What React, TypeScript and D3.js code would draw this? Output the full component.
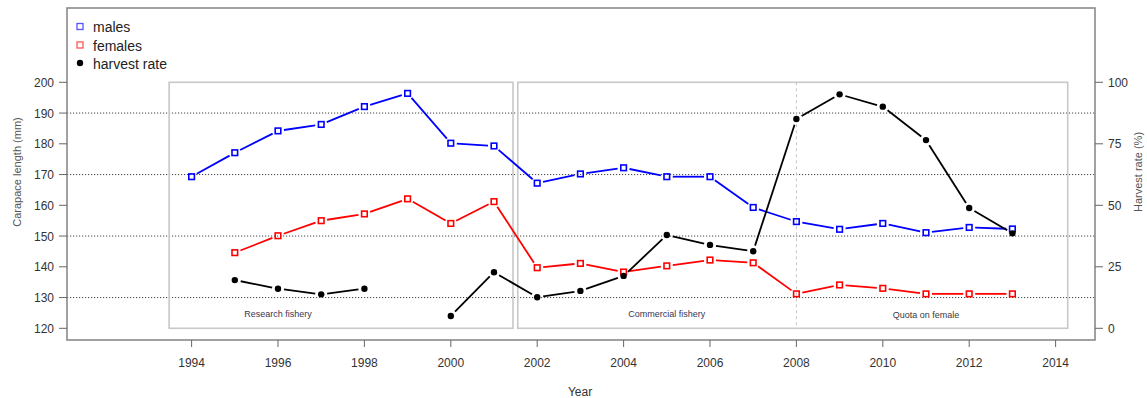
import React from "react";
import * as d3 from "d3";

const years = [1994, 1995, 1996, 1997, 1998, 1999, 2000, 2001, 2002, 2003, 2004, 2005, 2006, 2007, 2008, 2009, 2010, 2011, 2012, 2013];
const males = [169.3, 177.1, 184.2, 186.3, 192.1, 196.4, 180.2, 179.3, 167.2, 170.2, 172.2, 169.3, 169.3, 159.3, 154.7, 152.2, 154.1, 151.1, 152.8, 152.3];
const females: (number | null)[] = [null, 144.6, 150.1, 155.0, 157.2, 162.1, 154.1, 161.2, 139.7, 141.1, 138.3, 140.3, 142.2, 141.3, 131.2, 134.1, 133.0, 131.2, 131.2, 131.2];
const harvest: (number | null)[] = [null, 19.6, 16.1, 13.8, 16.1, null, 5.0, 22.8, 12.6, 15.2, 21.3, 37.9, 33.9, 31.3, 85.1, 95.1, 90.1, 76.5, 48.9, 38.6];

const xTicks = [1994, 1996, 1998, 2000, 2002, 2004, 2006, 2008, 2010, 2012, 2014];
const leftTicks = [120, 130, 140, 150, 160, 170, 180, 190, 200];
const rightTicks = [0, 25, 50, 75, 100];
const gridValues = [130, 150, 170, 190];

const periods = [
  { label: "Research fishery", x0: 1993.48, x1: 2001.44, tx: 1996.0 },
  { label: "Commercial fishery", x0: 2001.55, x1: 2014.28, tx: 2005.0 },
];
const quotaYear = 2008;
const quotaLabel = { label: "Quota on female", tx: 2011.0 };

const W = 1147, H = 398;
const frame = { left: 67, right: 1095, top: 8, bottom: 340 };
const x = d3.scaleLinear().domain([1994, 2014]).range([191.6, 1055.6]);
const yL = d3.scaleLinear().domain([120, 200]).range([328.3, 82.3]);
const yR = d3.scaleLinear().domain([0, 100]).range([328.3, 82.3]);

const font = "Liberation Sans, Arial, sans-serif";

function segs(vals: (number | null)[], y: d3.ScaleLinear<number, number>, gap: number) {
  const out: { x1: number; y1: number; x2: number; y2: number }[] = [];
  for (let i = 0; i < vals.length - 1; i++) {
    const a = vals[i], b = vals[i + 1];
    if (a == null || b == null) continue;
    const x1 = x(years[i]), y1 = y(a), x2 = x(years[i + 1]), y2 = y(b);
    const dx = x2 - x1, dy = y2 - y1, len = Math.hypot(dx, dy);
    if (len <= 2 * gap) continue;
    const ux = dx / len, uy = dy / len;
    out.push({ x1: x1 + ux * gap, y1: y1 + uy * gap, x2: x2 - ux * gap, y2: y2 - uy * gap });
  }
  return out;
}

export default function App() {
  const boxTop = yL(200), boxBot = yL(120);
  const series = [
    { vals: males as (number | null)[], color: "#0000ff" },
    { vals: females, color: "#ff0000" },
  ];
  return (
    <svg width={W} height={H} style={{ position: "absolute", left: 0, top: 0, background: "#fff" }} fontFamily={font}>
      {/* grid */}
      {gridValues.map((g) => (
        <line key={g} x1={frame.left} x2={frame.right} y1={yL(g)} y2={yL(g)} stroke="#444" strokeWidth={1} strokeDasharray="1.2,1.8" />
      ))}
      {/* period boxes */}
      {periods.map((p) => (
        <g key={p.label}>
          <rect x={x(p.x0)} y={boxTop} width={x(p.x1) - x(p.x0)} height={boxBot - boxTop} fill="none" stroke="#c8c8c8" strokeWidth={1.6} />
          <text x={x(p.tx)} y={boxBot - 11} fontSize={9} fill="#3a3550" textAnchor="middle">{p.label}</text>
        </g>
      ))}
      <line x1={x(quotaYear)} x2={x(quotaYear)} y1={boxTop} y2={boxBot} stroke="#c4c4c4" strokeWidth={1} strokeDasharray="3,3" />
      <text x={x(quotaLabel.tx)} y={boxBot - 10} fontSize={9} fill="#3a3a3a" textAnchor="middle">{quotaLabel.label}</text>

      {/* frame */}
      <rect x={frame.left} y={frame.top} width={frame.right - frame.left} height={frame.bottom - frame.top} fill="none" stroke="#8a8a8a" strokeWidth={1.6} />

      {/* x axis */}
      {xTicks.map((t) => (
        <g key={t}>
          <line x1={x(t)} x2={x(t)} y1={frame.bottom} y2={frame.bottom + 7} stroke="#666" strokeWidth={1} />
          <text x={x(t)} y={frame.bottom + 27} fontSize={12} fill="#333" textAnchor="middle">{t}</text>
        </g>
      ))}
      <text x={580} y={396} fontSize={12} fill="#333" textAnchor="middle">Year</text>

      {/* left axis */}
      {leftTicks.map((t) => (
        <g key={t}>
          <line x1={frame.left - 8} x2={frame.left} y1={yL(t)} y2={yL(t)} stroke="#666" strokeWidth={1} />
          <text x={frame.left - 13} y={yL(t) + 4.5} fontSize={12} fill="#333" textAnchor="end">{t}</text>
        </g>
      ))}
      <text transform={`translate(21,${172}) rotate(-90)`} fontSize={11} fill="#555" textAnchor="middle">Carapace length (mm)</text>

      {/* right axis */}
      {rightTicks.map((t) => (
        <g key={t}>
          <line x1={frame.right} x2={frame.right + 8} y1={yR(t)} y2={yR(t)} stroke="#666" strokeWidth={1} />
          <text x={frame.right + 13} y={yR(t) + 4.5} fontSize={12} fill="#333" textAnchor="start">{t}</text>
        </g>
      ))}
      <text transform={`translate(1142,${172}) rotate(-90)`} fontSize={11} fill="#555" textAnchor="middle">Harvest rate (%)</text>

      {/* series */}
      {series.map((s, si) => (
        <g key={si}>
          {segs(s.vals, yL, 6).map((sg, i) => (
            <line key={i} {...sg} stroke={s.color} strokeWidth={1.8} />
          ))}
          {s.vals.map((v, i) =>
            v == null ? null : (
              <rect key={i} x={x(years[i]) - 2.8} y={yL(v) - 2.8} width={5.6} height={5.6} fill="none" stroke={s.color} strokeWidth={1.6} />
            )
          )}
        </g>
      ))}
      <g>
        {segs(harvest, yR, 6).map((sg, i) => (
          <line key={i} {...sg} stroke="#000" strokeWidth={1.8} />
        ))}
        {harvest.map((v, i) => (v == null ? null : <circle key={i} cx={x(years[i])} cy={yR(v)} r={3.2} fill="#000" />))}
      </g>

      {/* legend */}
      <rect x={77} y={23.5} width={6} height={6} fill="none" stroke="#5555ff" strokeWidth={1.3} />
      <text x={93} y={32} fontSize={14} fill="#222">males</text>
      <rect x={77} y={42} width={6} height={6} fill="none" stroke="#ff5555" strokeWidth={1.3} />
      <text x={93} y={50.5} fontSize={14} fill="#222">females</text>
      <circle cx={80} cy={63} r={3.2} fill="#000" />
      <text x={93} y={68.5} fontSize={14} fill="#222">harvest rate</text>
    </svg>
  );
}
